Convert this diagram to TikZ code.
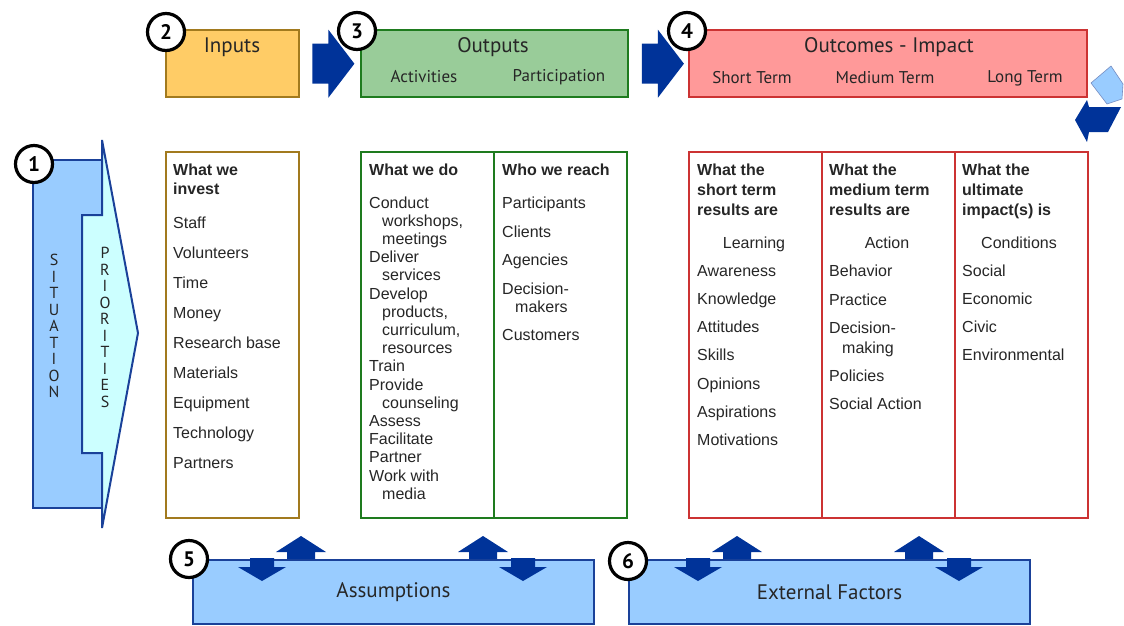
\documentclass[tikz,border=0pt]{standalone}
\usepackage{fontspec}
\setmainfont{Liberation Sans}
\newfontfamily\headfont{PT Sans}
\usetikzlibrary{shapes,arrows,positioning}
\definecolor{inpfill}{HTML}{FFCC66}
\definecolor{inpdraw}{HTML}{A27A1E}
\definecolor{outfill}{HTML}{99CC99}
\definecolor{outdraw}{HTML}{1E7B1E}
\definecolor{outcfill}{HTML}{FF9999}
\definecolor{outcdraw}{HTML}{CC3333}
\definecolor{sitfill}{HTML}{99CCFF}
\definecolor{sitdraw}{HTML}{1A4199}
\definecolor{prifill}{HTML}{CCFFFF}
\definecolor{arrowblue}{HTML}{003399}
\newcommand{\ind}{\hspace*{13pt}}
\newcommand{\itemfont}{\fontsize{16}{18.2}\selectfont}
\newcommand{\rightblock}[1]{\fill[arrowblue] (#1) ++(0,-20) -- ++(16,0) -- ++(0,-14) -- ++(26,34) -- ++(-26,34) -- ++(0,-14) -- ++(-16,0) -- cycle;}
\newcommand{\upblock}[1]{\fill[arrowblue] (#1) ++(-14,0) -- ++(0,-7) -- ++(-11,0) -- ++(25,-16) -- ++(25,16) -- ++(-11,0) -- ++(0,7) -- cycle;}
\newcommand{\downblock}[1]{\fill[arrowblue] (#1) ++(-12,-1) -- ++(0,9) -- ++(-12,0) -- ++(24,14) -- ++(24,-14) -- ++(-12,0) -- ++(0,-9) -- cycle;}
\tikzstyle{numcircle} = [circle, draw=black, line width=3.2pt, fill=white, minimum size=37pt, inner sep=0pt, font=\headfont\bfseries\fontsize{21}{21}\selectfont]
\tikzstyle{headbox} = [rectangle, line width=2.4pt, minimum height=67pt, anchor=north west, inner sep=0pt]
\tikzstyle{listbox} = [rectangle, draw, line width=2.4pt, fill=white, minimum width=133pt, minimum height=366pt, anchor=north west, inner sep=0pt]
\tikzstyle{bottombox} = [rectangle, draw=sitdraw, fill=sitfill, line width=2pt, minimum width=401pt, minimum height=64pt, anchor=north west, inner sep=0pt]
\tikzstyle{headtitle} = [inner sep=0pt, text=black!85, font=\headfont\fontsize{21}{21}\selectfont]
\tikzstyle{headsub} = [inner sep=0pt, text=black!85, font=\headfont\fontsize{17}{17}\selectfont]
\tikzstyle{listitem} = [anchor=west, inner sep=0pt, text height=11.5pt, text depth=3.5pt, text=black!85, font=\itemfont]
\tikzstyle{listhead} = [listitem, font=\itemfont\bfseries]
\tikzstyle{letter} = [inner sep=0pt, text=black!85, font=\headfont\fontsize{16}{16}\selectfont]

\begin{document}
\begin{tikzpicture}[x=1pt, y=-1pt]
\useasboundingbox (0,0) rectangle (1124,625);

% header row
\node[headbox, draw=inpdraw, fill=inpfill, minimum width=133pt] (inputs) at (165,29) {};
\node[headbox, draw=outdraw, fill=outfill, minimum width=267pt] (outputs) at (360,29) {};
\node[headbox, draw=outcdraw, fill=outcfill, minimum width=398pt] (outcomes) at (688,29) {};
\node[headtitle] (inputstitle) at (232,47) {Inputs};
\node[headtitle] (outputstitle) at (493,47) {Outputs};
\node[headsub] (activities) at (424,77) {Activities};
\node[headsub] (participation) at (559,77) {Participation};
\node[headtitle] (outcomestitle) at (889,47) {Outcomes - Impact};
\node[headsub] (shortterm) at (752,78) {Short Term};
\node[headsub] (mediumterm) at (885,78) {Medium Term};
\node[headsub] (longterm) at (1025,78) {Long Term};
\coordinate (arr1) at ([xshift=12pt]inputs.east);
\coordinate (arr2) at ([xshift=12.5pt]outputs.east);
\rightblock{arr1}
\rightblock{arr2}

% return arrow
\filldraw[fill=sitfill, draw=sitdraw!60, line width=0.6pt] (1091,83) -- (1111,66) -- (1123,84) -- (1122,99) -- (1107,104) -- cycle;
\fill[arrowblue] (1075,120) -- (1087,100) -- (1089,107) -- (1121,107) -- (1108,132) -- (1089,132) -- (1087,142) -- cycle;

% situation and priorities
\filldraw[fill=sitfill, draw=sitdraw, line width=2pt] (33,160) -- (102,160) -- (102,215) -- (82,215) -- (82,453) -- (102,453) -- (102,508) -- (33,508) -- cycle;
\filldraw[fill=prifill, draw=sitdraw, line width=2pt] (102,140) -- (138,333) -- (102,528) -- (102,453) -- (82,453) -- (82,215) -- (102,215) -- cycle;
\foreach \l [count=\i from 0] in {S,I,T,U,A,T,I,O,N}
  \node[letter] (sit\i) at (54,260+16.5*\i) {\l};
\foreach \l [count=\i from 0] in {P,R,I,O,R,I,T,I,E,S}
  \node[letter] (pri\i) at (105,253+16.5*\i) {\l};

% list boxes
\node[listbox, draw=inpdraw] (invest) at (165,151) {};
\node[listbox, draw=outdraw] (whatdo) at (360,151) {};
\node[listbox, draw=outdraw] (whoreach) at (493,151) {};
\node[listbox, draw=outcdraw] (shortres) at (688,151) {};
\node[listbox, draw=outcdraw] (mediumres) at (821,151) {};
\node[listbox, draw=outcdraw] (impact) at (954,151) {};

\node[listhead] (investhead) at (173,171) {What we};
\node[listhead] (investhead2) at (173,190) {invest};
\foreach \t [count=\i from 0] in {Staff,Volunteers,Time,Money,Research base,Materials,Equipment,Technology,Partners}
  \node[listitem] (inv\i) at (173,224+30*\i) {\t};

\node[listhead] (dohead) at (369,171) {What we do};
\foreach \t [count=\i from 0] in {Conduct,{\ind workshops,},\ind meetings,Deliver,\ind services,Develop,{\ind products,},{\ind curriculum,},\ind resources,Train,Provide,\ind counseling,Assess,Facilitate,Partner,Work with,\ind media}
  \node[listitem] (do\i) at (369,204+18.2*\i) {\t};

\node[listhead] (reachhead) at (502,171) {Who we reach};
\foreach \t/\y [count=\i] in {Participants/204,Clients/233,Agencies/261,Decision-/290,\ind makers/308,Customers/336}
  \node[listitem] (reach\i) at (502,\y) {\t};

\foreach \t [count=\i from 0] in {What the,short term,results are}
  \node[listhead] (shorthead\i) at (697,171+20*\i) {\t};
\node[listitem, anchor=center] (learning) at (754,244) {Learning};
\foreach \t [count=\i from 0] in {Awareness,Knowledge,Attitudes,Skills,Opinions,Aspirations,Motivations}
  \node[listitem] (short\i) at (697,272+28.3*\i) {\t};

\foreach \t [count=\i from 0] in {What the,medium term,results are}
  \node[listhead] (mediumhead\i) at (829,171+20*\i) {\t};
\node[listitem, anchor=center] (action) at (887,244) {Action};
\foreach \t/\y [count=\i] in {Behavior/272,Practice/301,Decision-/329,\ind making/349,Policies/377,Social Action/405}
  \node[listitem] (medium\i) at (829,\y) {\t};

\foreach \t [count=\i from 0] in {What the,ultimate,impact(s) is}
  \node[listhead] (impacthead\i) at (962,171+20*\i) {\t};
\node[listitem, anchor=center] (conditions) at (1019,244) {Conditions};
\foreach \t [count=\i from 0] in {Social,Economic,Civic,Environmental}
  \node[listitem] (long\i) at (962,272+28.3*\i) {\t};

% assumptions and external factors
\node[bottombox] (assumptions) at (192,559) {};
\node[bottombox] (external) at (628,559) {};
\node[headtitle] (assumptionstitle) at (assumptions.center) {Assumptions};
\node[headtitle] (externaltitle) at (external.center) {External Factors};
\foreach \b in {assumptions,external}{
  \downblock{[xshift=70pt]\b.north west}
  \upblock{[xshift=109pt]\b.north west}
  \upblock{[xshift=291pt]\b.north west}
  \downblock{[xshift=331pt]\b.north west}
}

% numbers
\node[numcircle] (num1) at (34,164) {1};
\node[numcircle] (num2) at (166,32) {2};
\node[numcircle] (num3) at (357,31) {3};
\node[numcircle] (num4) at (687,31) {4};
\node[numcircle] (num5) at (189,559) {5};
\node[numcircle] (num6) at (628,561) {6};
\end{tikzpicture}
\end{document}
